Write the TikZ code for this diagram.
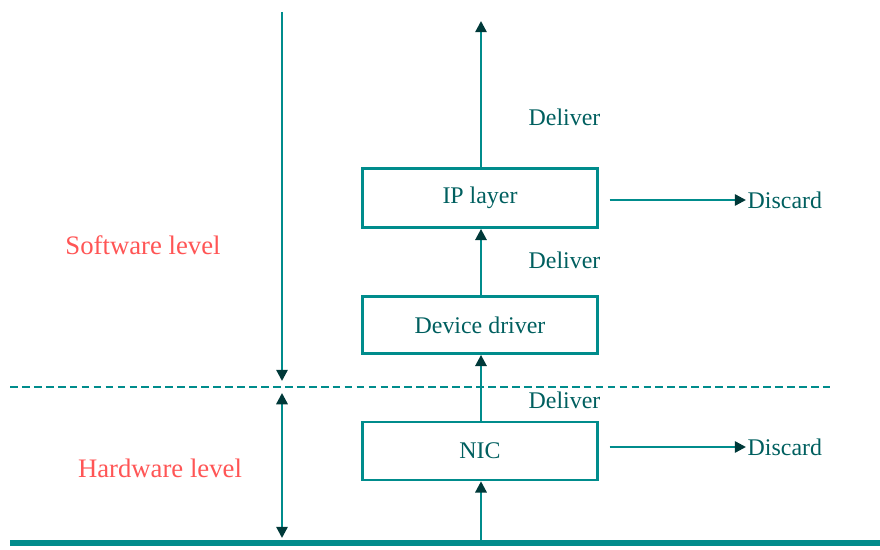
\documentclass[tikz,border=0pt]{standalone}
\usepackage{fontspec}
\setmainfont{Liberation Serif}
\usepackage{tikz}
\usetikzlibrary{arrows.meta,positioning}

\definecolor{wire}{RGB}{0,140,140}
\definecolor{ink}{RGB}{0,95,95}
\definecolor{levelred}{RGB}{255,85,85}

\tikzset{
  layerbox/.style={draw=wire, line width=1.8pt, minimum width=5.875cm,
    minimum height=1.48cm, text=ink, font=\fontsize{17}{20}\selectfont},
  tip/.style={Triangle[length=8pt,width=8pt,color=ink!60!black]},
  flow/.style={draw=wire, line width=1.7pt, -{Triangle[length=8pt,width=8pt,color=ink!60!black]}},
  lbl/.style={text=ink, font=\fontsize{17}{20}\selectfont, inner sep=1pt},
  levellbl/.style={text=levelred, font=\fontsize{19}{22}\selectfont}
}

\begin{document}
\begin{tikzpicture}[x=0.025cm, y=-0.025cm]
  \useasboundingbox (0,0) rectangle (880,550);
  % Level boundaries
  \draw[wire, line width=3.8pt] (10,543) -- (880,543);
  \draw[wire, line width=1.6pt, dash pattern=on 5.5pt off 3pt] (10,387) -- (830,387);
  % Left span markers
  \coordinate (swtop) at (282,12);
  \coordinate (swbot) at (282,381);
  \coordinate (hwtop) at (282,393);
  \coordinate (hwbot) at (282,538);
  \draw[flow] (swtop) -- (swbot);
  \draw[flow, {Triangle[length=8pt,width=8pt,color=ink!60!black]}-{Triangle[length=8pt,width=8pt,color=ink!60!black]}] (hwtop) -- (hwbot);
  \node[levellbl] (sw) at (143,245) {Software level};
  \node[levellbl] (hw) at (160,468) {Hardware level};
  % Receive path boxes
  \node[layerbox] (ip) at (480,198) {IP layer};
  \node[layerbox, minimum height=1.43cm] (drv) at (480,325) {Device driver};
  \node[layerbox, minimum height=1.45cm] (nic) at (480,451) {NIC};
  \coordinate (up) at (481,21);
  \coordinate (wire0) at (481,542);
  \draw[flow] (ip.north -| up) -- (up);
  \draw[flow] (drv.north -| up) -- (ip.south -| up);
  \draw[flow] (nic.north -| up) -- (drv.south -| up);
  \draw[flow] (wire0) -- (nic.south -| up);
  % Deliver labels
  \node[lbl, anchor=west] (dl1) at (527,117) {Deliver};
  \node[lbl, anchor=west] (dl2) at (527,260) {Deliver};
  \node[lbl, anchor=west] (dl3) at (527,400) {Deliver};
  % Discard branches
  \node[lbl, anchor=west] (dc1) at (746,200) {Discard};
  \node[lbl, anchor=west] (dc2) at (746,447) {Discard};
  \draw[flow, shorten <=0.27cm] (ip.east |- dc1) -- (dc1.west);
  \draw[flow, shorten <=0.27cm] (nic.east |- dc2) -- (dc2.west);
\end{tikzpicture}
\end{document}
